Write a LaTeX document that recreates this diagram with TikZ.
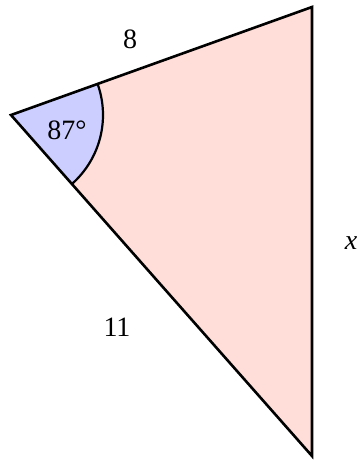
\documentclass[tikz,border=0pt]{standalone}
\usepackage{fontspec}
\setmainfont{Liberation Serif}
\usepackage{tikz}
\definecolor{tripink}{RGB}{255,221,216}
\definecolor{angblue}{RGB}{204,206,255}
\tikzset{lbl/.style={font=\fontsize{28}{32}\selectfont, inner sep=0pt}}
\begin{document}
\begin{tikzpicture}[x=1pt,y=1pt]
\useasboundingbox (0,0) rectangle (358,-461);
\coordinate (A) at (11,-115);
\coordinate (B) at (312,-7);
\coordinate (C) at (312,-456);
\fill[tripink] (A) -- (B) -- (C) -- cycle;
\fill[angblue] (A) -- ++(19.74:92) arc[start angle=19.74, end angle=-48.65, radius=92] -- cycle;
\draw[line width=2.2pt] (A) ++(19.74:92) arc[start angle=19.74, end angle=-48.65, radius=92];
\draw[line width=2.6pt, line join=miter] (A) -- (B) -- (C) -- cycle;
\node[lbl] (l8) at (130,-39) {8};
\node[lbl] (lx) at (351,-243) {\itshape x};
\node[lbl] (l11) at (117,-327) {11};
\node[lbl] (lang) at (67,-130) {87°};
\end{tikzpicture}
\end{document}
